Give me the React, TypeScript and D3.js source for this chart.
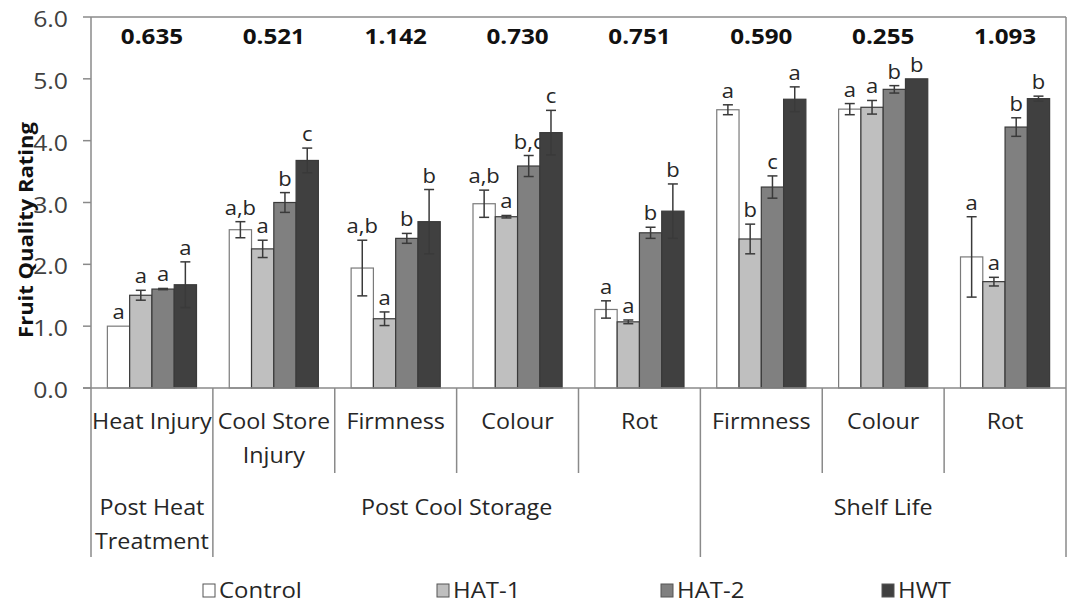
import React from "react";
import * as d3 from "d3";

const categoryLabels: string[][] = [
  ["Heat Injury"],
  ["Cool Store", "Injury"],
  ["Firmness"],
  ["Colour"],
  ["Rot"],
  ["Firmness"],
  ["Colour"],
  ["Rot"],
];
const groupLabels: string[][] = [["Post Heat", "Treatment"], ["Post Cool Storage"], ["Shelf Life"]];
const groupSpans = [1, 4, 3];
const lsdValues = ["0.635", "0.521", "1.142", "0.730", "0.751", "0.590", "0.255", "1.093"];

const seriesNames = ["Control", "HAT-1", "HAT-2", "HWT"];
const controlValues = [1.0, 2.56, 1.94, 2.98, 1.27, 4.5, 4.51, 2.12];
const hat1Values = [1.5, 2.25, 1.12, 2.77, 1.07, 2.41, 4.54, 1.72];
const hat2Values = [1.6, 3.0, 2.42, 3.59, 2.51, 3.25, 4.83, 4.22];
const hwtValues = [1.67, 3.68, 2.69, 4.13, 2.86, 4.67, 5.0, 4.68];

const controlErr = [0, 0.13, 0.45, 0.22, 0.14, 0.08, 0.09, 0.65];
const hat1Err = [0.08, 0.14, 0.11, 0.02, 0.03, 0.24, 0.11, 0.07];
const hat2Err = [0.01, 0.16, 0.08, 0.17, 0.09, 0.18, 0.06, 0.15];
const hwtErr = [0.37, 0.2, 0.52, 0.36, 0.44, 0.2, 0, 0.04];

const controlLetters = ["a", "a,b", "a,b", "a,b", "a", "a", "a", "a"];
const hat1Letters = ["a", "a", "a", "a", "a", "b", "a", "a"];
const hat2Letters = ["a", "b", "b", "b,c", "b", "c", "b", "b"];
const hwtLetters = ["a", "c", "b", "c", "b", "a", "b", "b"];

const yTicks = [0, 1, 2, 3, 4, 5, 6];

const seriesValues = [controlValues, hat1Values, hat2Values, hwtValues];
const seriesErr = [controlErr, hat1Err, hat2Err, hwtErr];
const seriesLetters = [controlLetters, hat1Letters, hat2Letters, hwtLetters];
const seriesFill = ["#ffffff", "#bfbfbf", "#808080", "#404040"];

const W = 1071;
const H = 605;
const L = 91;
const R = 1066;
const T = 17;
const B = 388;
const FONT = "'Open Sans', 'DejaVu Sans', sans-serif";
const AXIS = "#8a8a8a";

type STextProps = {
  x: number;
  y: number;
  sx: number;
  rotate?: number;
  anchor?: "start" | "middle" | "end";
  size: number;
  bold?: boolean;
  fill: string;
  children: React.ReactNode;
};

function SText({ x, y, sx, rotate, anchor = "middle", size, bold, fill, children }: STextProps) {
  const rot = rotate ? ` rotate(${rotate})` : "";
  return (
    <text
      transform={`translate(${x},${y})${rot} scale(${sx},1)`}
      textAnchor={anchor}
      fontSize={size}
      fontWeight={bold ? "bold" : "normal"}
      fill={fill}
    >
      {children}
    </text>
  );
}

export default function App() {
  const catIdx = categoryLabels.map((_, i) => i);
  const x0 = d3.scaleBand<number>().domain(catIdx).range([L, R]).paddingInner(0).paddingOuter(0);
  const bw = x0.bandwidth();
  const x1 = d3.scaleBand<number>().domain([0, 1, 2, 3]).range([0, bw]).paddingInner(0).paddingOuter(0.735);
  const y = d3.scaleLinear().domain([0, 6]).range([B, T]);
  const fmt = d3.format(".1f");

  const groupBounds: number[] = [];
  let acc = 0;
  groupSpans.forEach((s) => {
    groupBounds.push(acc);
    acc += s;
  });

  const catEdge = (i: number) => (i < catIdx.length ? (x0(i) as number) : R);

  return (
    <svg width={W} height={H} style={{ position: "absolute", left: 0, top: 0, background: "#fff" }} fontFamily={FONT}>
      <rect x={0} y={0} width={W} height={H} fill="#fff" />
      <line x1={L} x2={R} y1={T} y2={T} stroke={AXIS} strokeWidth={1.5} />
      <line x1={R} x2={R} y1={T} y2={B} stroke={AXIS} strokeWidth={1.5} />
      <line x1={L} x2={L} y1={T} y2={B} stroke={AXIS} strokeWidth={1.5} />
      {yTicks.map((t) => (
        <g key={t}>
          <line x1={L - 8} x2={L} y1={y(t)} y2={y(t)} stroke={AXIS} strokeWidth={1.5} />
          <SText x={68} y={y(t) + 10} sx={1.18} anchor="end" size={21} fill="#404040">
            {fmt(t)}
          </SText>
        </g>
      ))}
      <SText x={33} y={230} sx={1.1} rotate={-90} size={20} bold fill="#111">
        Fruit Quality Rating
      </SText>

      {catIdx.map((ci) => (
        <g key={ci} transform={`translate(${x0(ci)},0)`}>
          {seriesNames.map((_, si) => {
            const v = seriesValues[si][ci];
            const e = seriesErr[si][ci];
            const bx = x1(si) as number;
            const w = x1.bandwidth();
            const cx = bx + w / 2;
            return (
              <g key={si}>
                <rect
                  x={bx}
                  y={y(v)}
                  width={w}
                  height={B - y(v)}
                  fill={seriesFill[si]}
                  stroke={si === 0 ? "#7a7a7a" : "#3a3a3a"}
                  strokeWidth={1.2}
                />
                {e > 0 && (
                  <g stroke="#3a3a3a" strokeWidth={1.5}>
                    <line x1={cx} x2={cx} y1={y(v + e)} y2={y(v - e)} />
                    <line x1={cx - 5} x2={cx + 5} y1={y(v + e)} y2={y(v + e)} />
                    <line x1={cx - 5} x2={cx + 5} y1={y(v - e)} y2={y(v - e)} />
                  </g>
                )}
                <SText x={cx} y={y(v + e) - 7} sx={1.1} size={20} fill="#262626">
                  {seriesLetters[si][ci]}
                </SText>
              </g>
            );
          })}
          <SText x={bw / 2} y={44} sx={1.1} size={22} bold fill="#111">
            {lsdValues[ci]}
          </SText>
        </g>
      ))}

      <line x1={L - 8} x2={R} y1={B} y2={B} stroke={AXIS} strokeWidth={1.5} />
      {d3.range(catIdx.length + 1).map((i) => {
        const isGroup = groupBounds.includes(i) || i === catIdx.length;
        return (
          <line
            key={i}
            x1={catEdge(i)}
            x2={catEdge(i)}
            y1={B}
            y2={isGroup ? 557 : 473}
            stroke={AXIS}
            strokeWidth={1.5}
          />
        );
      })}
      {catIdx.map((ci) =>
        categoryLabels[ci].map((line, li) => (
          <SText
            key={`${ci}-${li}`}
            x={(x0(ci) as number) + bw / 2}
            y={429 + li * 34}
            sx={1.11}
            size={21}
            fill="#262626"
          >
            {line}
          </SText>
        ))
      )}
      {groupLabels.map((lines, gi) => {
        const start = catEdge(groupBounds[gi]);
        const end = catEdge(groupBounds[gi] + groupSpans[gi]);
        return lines.map((line, li) => (
          <SText key={`${gi}-${li}`} x={(start + end) / 2} y={515 + li * 34} sx={1.11} size={21} fill="#262626">
            {line}
          </SText>
        ));
      })}

      {seriesNames.map((name, si) => {
        const lx = [203, 437, 661, 882][si];
        return (
          <g key={name}>
            <rect x={lx} y={584} width={12} height={13} fill={seriesFill[si]} stroke="#555" strokeWidth={1} />
            <SText x={lx + 16} y={598} sx={1.14} anchor="start" size={21} fill="#262626">
              {name}
            </SText>
          </g>
        );
      })}
    </svg>
  );
}
